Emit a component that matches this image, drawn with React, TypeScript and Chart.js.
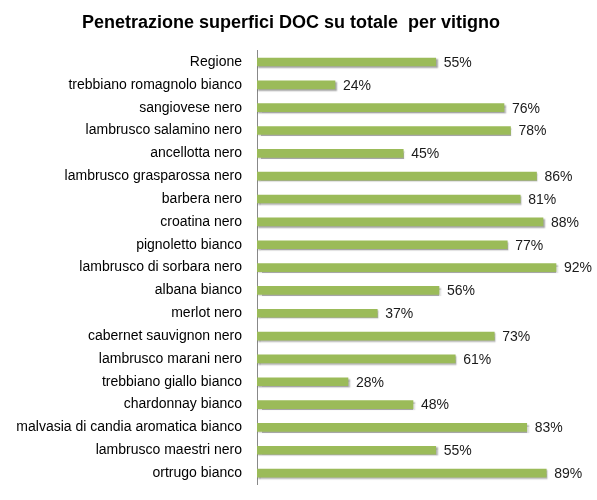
import { useEffect, useRef } from 'react';
import { Chart, registerables } from 'chart.js';

Chart.register(...registerables);

const TITLE = 'Penetrazione superfici DOC su totale  per vitigno';

const varieties = [
  'Regione',
  'trebbiano romagnolo bianco',
  'sangiovese nero',
  'lambrusco salamino nero',
  'ancellotta nero',
  'lambrusco grasparossa nero',
  'barbera nero',
  'croatina nero',
  'pignoletto bianco',
  'lambrusco di sorbara nero',
  'albana bianco',
  'merlot nero',
  'cabernet sauvignon nero',
  'lambrusco marani nero',
  'trebbiano giallo bianco',
  'chardonnay bianco',
  'malvasia di candia aromatica bianco',
  'lambrusco maestri nero',
  'ortrugo bianco',
];

const docShare = [55, 24, 76, 78, 45, 86, 81, 88, 77, 92, 56, 37, 73, 61, 28, 48, 83, 55, 89];

const LABEL_FONT = "'Liberation Sans', Arial, sans-serif";

// soft shadow under the bars, like the Excel original
const barShadow = {
  id: 'barShadow',
  beforeDatasetsDraw(chart: any) {
    const ctx = chart.ctx;
    ctx.save();
    ctx.shadowColor = 'rgba(0,0,0,0.35)';
    ctx.shadowOffsetX = 1.5;
    ctx.shadowOffsetY = 1.5;
    ctx.shadowBlur = 1.5;
  },
  afterDatasetsDraw(chart: any) {
    chart.ctx.restore();
  },
};

// percentage labels to the right of each bar
const valueLabels = {
  id: 'valueLabels',
  afterDraw(chart: any) {
    const ctx = chart.ctx;
    const meta = chart.getDatasetMeta(0);
    ctx.save();
    ctx.font = `14px ${LABEL_FONT}`;
    ctx.fillStyle = '#1a1a1a';
    ctx.textAlign = 'left';
    ctx.textBaseline = 'middle';
    meta.data.forEach((bar: any, i: number) => {
      ctx.fillText(`${docShare[i]}%`, bar.x + 8, bar.y + 1);
    });
    ctx.restore();
  },
};

export default function App() {
  const chartRef = useRef<HTMLCanvasElement>(null);

  useEffect(() => {
    if (!chartRef.current) return;
    const ctx = chartRef.current.getContext('2d');
    if (!ctx) return;

    const chart = new Chart(ctx, {
      type: 'bar',
      data: {
        labels: varieties,
        datasets: [{
          data: docShare,
          backgroundColor: '#9BBB59',
          borderWidth: 0,
          barThickness: 8,
        }],
      },
      options: {
        indexAxis: 'y',
        responsive: false,
        animation: false,
        layout: { padding: { left: 0, right: 15, top: 0, bottom: 15.5 } },
        plugins: {
          legend: { display: false },
          tooltip: { enabled: false },
          title: {
            display: true,
            text: TITLE,
            color: '#000',
            font: { family: "'Liberation Sans Narrow', 'Liberation Sans', sans-serif", size: 18, weight: 'bold' },
            padding: { top: 12, bottom: 17 },
          },
        },
        scales: {
          x: { display: false, min: 0, max: 100 },
          y: {
            grid: { display: false, drawTicks: false },
            border: { display: true, color: '#888888', width: 1 },
            afterFit(scale: any) {
              // fixed axis width; drop the label padding that would shrink the plot
              scale.width = 257;
              scale.paddingTop = 0;
              scale.paddingBottom = 0;
            },
            ticks: {
              padding: 15,
              color: '#000',
              autoSkip: false,
              font: { family: LABEL_FONT, size: 14 },
            },
          },
        },
      },
      plugins: [barShadow, valueLabels],
    });

    return () => chart.destroy();
  }, []);

  return (
    <div style={{ position: 'absolute', left: 0, top: 0, width: 597, height: 500, background: '#fff' }}>
      <canvas ref={chartRef} width={597} height={500} />
    </div>
  );
}
